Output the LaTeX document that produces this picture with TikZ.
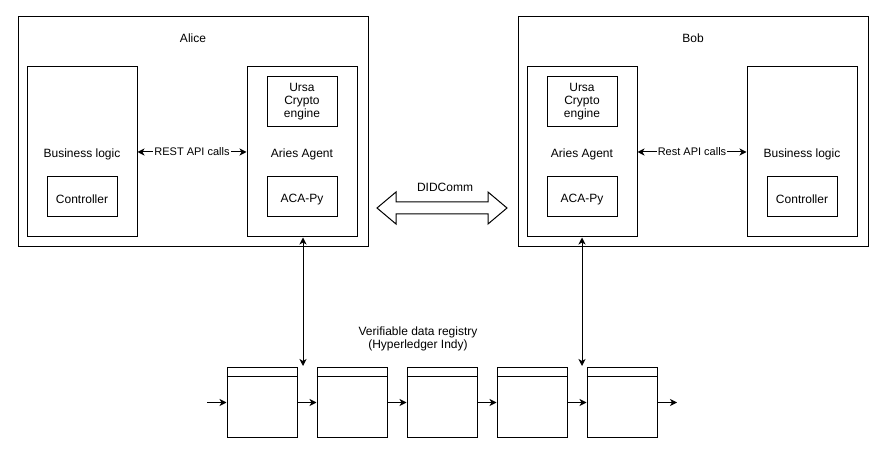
\documentclass[tikz,border=0pt]{standalone}
\usepackage{fontspec}
\setmainfont{Liberation Sans}
\usetikzlibrary{arrows.meta}
\tikzset{
  box/.style={draw=black, line width=1pt, rectangle, inner sep=0pt, align=center,
    font=\fontsize{12}{13}\selectfont, execute at begin node={\rule{0pt}{12.5pt}}},
  lbl/.style={inner sep=0pt, align=center, font=\fontsize{12}{13}\selectfont},
  edgelbl/.style={fill=white, inner sep=1pt, font=\fontsize{11}{13}\selectfont},
  conn/.style={line width=1pt, {Stealth[length=7pt,width=7pt,inset=2pt]}-{Stealth[length=7pt,width=7pt,inset=2pt]}},
  fwd/.style={line width=1pt, -{Stealth[length=7pt,width=7pt,inset=2pt]}},
}
\begin{document}
\begin{tikzpicture}[x=1pt,y=-1pt]
\useasboundingbox (0,0) rectangle (892,462);
\fill[white] (0,0) rectangle (892,462);

% Alice
\node[box, minimum width=350, minimum height=230] (alice) at (193,132) {};
\node[lbl] (alicelbl) at (193,38) {Alice};
\node[box, minimum width=110, minimum height=170] (bl1) at (82,152) {Business logic};
\node[box, minimum width=70, minimum height=40] (ctl1) at (82,197) {Controller};
\node[box, minimum width=110, minimum height=170] (ag1) at (302,152) {Aries Agent};
\node[box, minimum width=70, minimum height=50] (ur1) at (302,102) {Ursa\\Crypto\\engine};
\node[box, minimum width=70, minimum height=40] (aca1) at (302,197) {ACA-Py};
\draw[conn] (bl1.east) -- node[edgelbl] {REST API calls} (ag1.west);

% Bob
\node[box, minimum width=350, minimum height=230] (bob) at (693,132) {};
\node[lbl] (boblbl) at (693,38) {Bob};
\node[box, minimum width=110, minimum height=170] (ag2) at (582,152) {Aries Agent};
\node[box, minimum width=70, minimum height=50] (ur2) at (582,102) {Ursa\\Crypto\\engine};
\node[box, minimum width=70, minimum height=40] (aca2) at (582,197) {ACA-Py};
\node[box, minimum width=110, minimum height=170] (bl2) at (802,152) {Business logic};
\node[box, minimum width=70, minimum height=40] (ctl2) at (802,197) {Controller};
\draw[conn] (ag2.east) -- node[edgelbl] {Rest API calls} (bl2.west);

% DIDComm double arrow
\draw[line width=1pt, line join=miter] (377,208) -- (396,192) -- (396,202) -- (488,202) -- (488,192)
  -- (507,208) -- (488,224) -- (488,214) -- (396,214) -- (396,224) -- cycle;
\node[lbl] (didlbl) at (445,187) {DIDComm};

% Registry
\node[lbl] (reglbl) at (418,339) {Verifiable data registry\\(Hyperledger Indy)};
\foreach \i/\x in {1/262,2/352,3/442,4/532,5/622}{
  \node[box, minimum width=70, minimum height=69] (blk\i) at (\x,402.5) {};
  \draw[line width=1pt] ([yshift=-9pt]blk\i.north west) -- ([yshift=-9pt]blk\i.north east);
}
\coordinate (in0) at (207,402.5);
\coordinate (out0) at (677,402.5);
\draw[fwd] (in0) -- (blk1.west);
\draw[fwd] (blk1.east) -- (blk2.west);
\draw[fwd] (blk2.east) -- (blk3.west);
\draw[fwd] (blk3.east) -- (blk4.west);
\draw[fwd] (blk4.east) -- (blk5.west);
\draw[fwd] (blk5.east) -- (out0);

% Vertical links
\coordinate (va) at (303,366);
\coordinate (vb) at (582,366);
\draw[conn] (ag1.south -| va) -- (va);
\draw[conn] (ag2.south) -- (vb);
\end{tikzpicture}
\end{document}
